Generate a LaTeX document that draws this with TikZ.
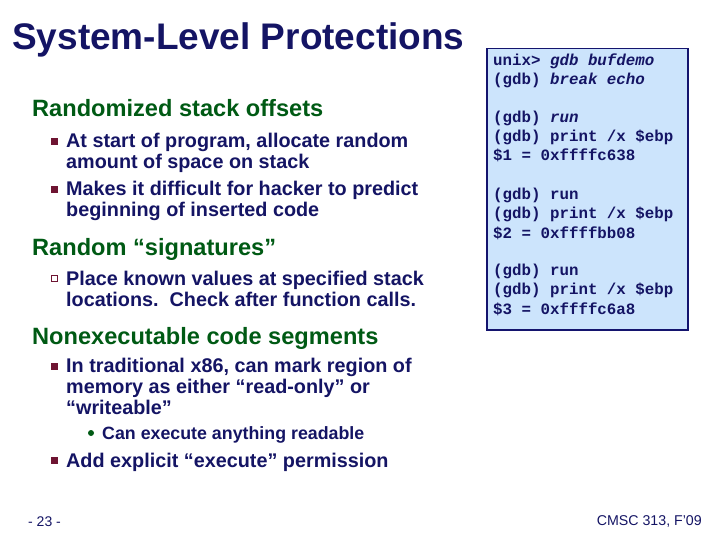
\documentclass[tikz,border=0pt]{standalone}
\usepackage{fontspec}
\setmainfont{Liberation Sans}
\setmonofont{Liberation Mono}
\definecolor{navy}{RGB}{20,20,100}
\definecolor{hgreen}{RGB}{0,90,20}
\definecolor{bulc}{RGB}{110,20,50}
\definecolor{boxfill}{RGB}{204,228,252}
\definecolor{boxline}{RGB}{20,20,110}
\tikzset{
 txt/.style={anchor=base west,inner sep=0pt,text=navy,font=\bfseries\fontsize{19.8}{21}\selectfont,align=left},
 head/.style={anchor=base west,inner sep=0pt,text=hgreen,font=\bfseries\fontsize{23.6}{25}\selectfont},
 sq/.style={fill=bulc,minimum size=7pt,inner sep=0pt},
 code/.style={anchor=base west,inner sep=0pt,text=navy,font=\ttfamily\bfseries\fontsize{15.8}{19.2}\selectfont,align=left},
}
\begin{document}
\begin{tikzpicture}[x=1pt,y=-1pt]
\useasboundingbox (0,0) rectangle (720,540);
\node[anchor=base west,inner sep=0pt,text=navy,font=\bfseries\fontsize{37}{40}\selectfont] (title) at (12,50) {System-Level Protections};
\node[head] (h1) at (32,117) {Randomized stack offsets};
\node[sq] (b1) at (54,142) {};
\node[txt] (t1) at (66,169) {At start of program, allocate random\\amount of space on stack};
\node[sq] (b2) at (54,190) {};
\node[txt] (t2) at (66,217) {Makes it difficult for hacker to predict\\beginning of inserted code};
\node[head] (h2) at (32,255) {Random “signatures”};
\node[draw=bulc,fill=white,minimum size=6pt,inner sep=0pt,line width=0.6pt] (b3) at (54,278) {};
\node[txt] (t3) at (66,306) {Place known values at specified stack\\locations.\ \ Check after function calls.};
\node[head] (h3) at (32,344) {Nonexecutable code segments};
\node[sq] (b4) at (54,366) {};
\node[txt] (t4) at (66,414) {In traditional x86, can mark region of\\memory as either “read-only” or\\“writeable”};
\node[circle,fill=hgreen,minimum size=6pt,inner sep=0pt] (b5) at (91,433) {};
\node[anchor=base west,inner sep=0pt,text=navy,font=\bfseries\fontsize{17.8}{18}\selectfont] (t5) at (102,439) {Can execute anything readable};
\node[sq] (b6) at (54,460) {};
\node[txt] (t6) at (66,467) {Add explicit “execute” permission};
\node[anchor=base west,inner sep=0pt,text=navy,font=\fontsize{14}{15}\selectfont] (pg) at (28,526) {- 23 -};
\node[anchor=base east,inner sep=0pt,text=navy,font=\fontsize{14.2}{15}\selectfont] (cm) at (702,525) {CMSC 313, F’09};
\node[draw=boxline,line width=1.5pt,fill=boxfill,minimum width=201pt,minimum height=281pt,anchor=north west,inner sep=0pt] (box) at (486,48) {};
\node[code] (c1) at (493,85) {unix> \textit{gdb bufdemo}\\(gdb) \textit{break echo}};
\node[code] (c2) at (493,161) {(gdb) \textit{run}\\(gdb) print /x \$ebp\\\$1 = 0xffffc638};
\node[code] (c3) at (493,238) {(gdb) run\\(gdb) print /x \$ebp\\\$2 = 0xffffbb08};
\node[code] (c4) at (493,314) {(gdb) run\\(gdb) print /x \$ebp\\\$3 = 0xffffc6a8};
\end{tikzpicture}
\end{document}
